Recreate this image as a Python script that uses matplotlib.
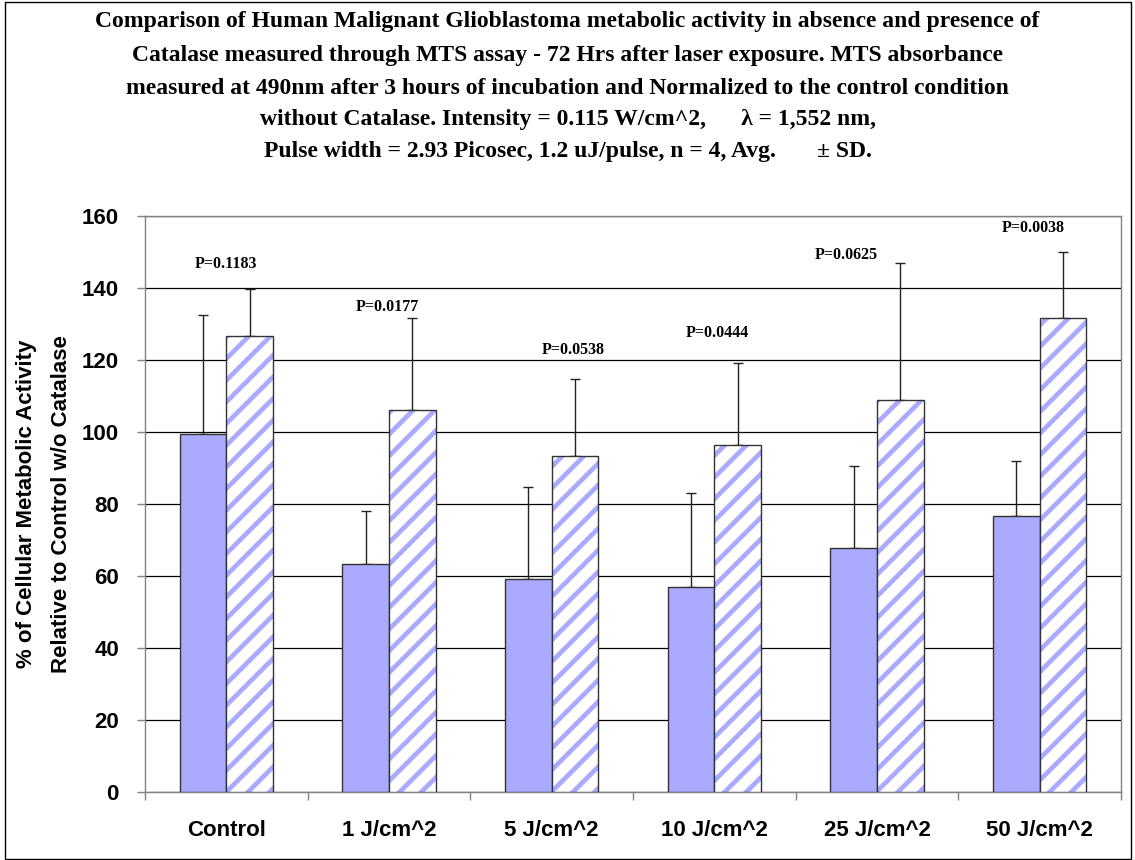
import matplotlib
matplotlib.use("Agg")
import matplotlib.pyplot as plt
from matplotlib.patches import Rectangle
import numpy as np

# ---- data -------------------------------------------------------------
categories = ["Control", "1 J/cm^2", "5 J/cm^2", "10 J/cm^2", "25 J/cm^2", "50 J/cm^2"]
without_catalase = [99.4, 63.4, 59.1, 56.9, 67.8, 76.6]
without_catalase_sd = [33.0, 14.7, 25.6, 26.2, 22.8, 15.4]
with_catalase = [126.6, 106.0, 93.4, 96.5, 108.9, 131.7]
with_catalase_sd = [13.0, 25.7, 21.4, 22.7, 38.1, 18.3]
p_values = ["P=0.1183", "P=0.0177", "P=0.0538", "P=0.0444", "P=0.0625", "P=0.0038"]
y_ticks = [0, 20, 40, 60, 80, 100, 120, 140, 160]

title_lines = [
    "Comparison of Human Malignant Glioblastoma metabolic activity in absence and presence of",
    "Catalase measured through MTS assay - 72 Hrs after laser exposure. MTS absorbance",
    "measured at 490nm after 3 hours of incubation and Normalized to the control condition",
    "without Catalase. Intensity = 0.115 W/cm^2,      \u03bb = 1,552 nm,",
    "Pulse width = 2.93 Picosec, 1.2 uJ/pulse, n = 4, Avg.       \u00b1 SD.",
]
ylabel_lines = ["% of Cellular Metabolic Activity", "Relative to Control w/o Catalase"]

# ---- layout -----------------------------------------------------------
W, H = 1135, 860
DPI = 130                 # hatch spacing follows the dpi, so sizes are rescaled
S = 100 / DPI             # point sizes below are given as if at 100 dpi

# P label anchors: (offset from group centre in category units, height)
p_label_pos = [(0.0, 146.7), (-0.01, 134.7), (0.13, 122.8),
               (0.02, 127.4), (-0.19, 149.2), (-0.04, 156.7)]
title_y_px = [22, 55, 88, 120, 152]
ylabel_x_px = [27, 62]

LAV = "#AAAAFF"
EDGE = "#333333"
AXIS_GRAY = "#808080"

plt.rcParams["font.family"] = ["Liberation Sans", "DejaVu Sans"]
plt.rcParams["font.weight"] = "bold"
plt.rcParams["hatch.linewidth"] = 3.4 * S

fig = plt.figure(figsize=(W / DPI, H / DPI), dpi=DPI)
ax = fig.add_axes([145 / W, 68 / H, 976 / W, 576 / H])

x = np.arange(len(categories))
w = 0.286
zeros = np.zeros(len(categories))

# bars without catalase (solid)
ax.bar(x - w / 2, without_catalase, w, color=LAV, edgecolor=EDGE,
       linewidth=1 * S, zorder=3)
# bars with catalase (diagonal stripes)
ax.bar(x + w / 2, with_catalase, w, color="white", edgecolor=LAV,
       hatch="//", linewidth=0, zorder=3)
ax.bar(x + w / 2, with_catalase, w, fill=False, edgecolor=EDGE,
       linewidth=1 * S, zorder=4)

# upper SD error bars
for xs, ys, sd in [(x - w / 2, without_catalase, without_catalase_sd),
                   (x + w / 2, with_catalase, with_catalase_sd)]:
    ax.errorbar(xs, ys, yerr=[zeros, sd], fmt="none", ecolor="#222222",
                elinewidth=1 * S, capsize=3.6 * S, capthick=1 * S, zorder=2)

# P value annotations
for i, (txt, (dx, yy)) in enumerate(zip(p_values, p_label_pos)):
    ax.text(i + dx, yy, txt, ha="center", va="center",
            family=["Liberation Serif", "DejaVu Serif"], weight="bold",
            fontsize=11.5 * S, zorder=5)

# axes styling
ax.set_xlim(-0.5, len(categories) - 0.5)
ax.set_ylim(0, 160)
ax.set_yticks(y_ticks)
ax.yaxis.grid(True, color="black", linewidth=0.9 * S)
ax.set_axisbelow(True)
for sp in ax.spines.values():
    sp.set_color(AXIS_GRAY)
    sp.set_linewidth(1 * S)

ax.tick_params(axis="y", length=5.8 * S, width=1 * S, color=AXIS_GRAY,
               pad=13 * S, labelsize=16 * S)
ax.set_xticks(x, categories)
ax.tick_params(axis="x", which="major", length=0, pad=20 * S,
               labelsize=16 * S)
ax.set_xticks(np.arange(-0.5, len(categories), 1), minor=True)
ax.tick_params(axis="x", which="minor", length=5.5 * S, width=1 * S,
               color=AXIS_GRAY)

# title
for line, yp in zip(title_lines, title_y_px):
    fig.text(0.5, 1 - yp / H, line, ha="center", va="center",
             family=["Liberation Serif", "DejaVu Serif"], weight="bold",
             fontsize=17 * S)

# y axis label (two lines)
for line, xp in zip(ylabel_lines, ylabel_x_px):
    fig.text(xp / W, 1 - 504 / H, line, rotation=90, ha="center",
             va="center", fontsize=16 * S, weight="bold")

# outer chart border
fig.patches.append(Rectangle((5 / W, 1 / H), 1126 / W, 857 / H,
                             transform=fig.transFigure, fill=False,
                             edgecolor="black", linewidth=1 * S))

fig.savefig("out.png", dpi=DPI)
